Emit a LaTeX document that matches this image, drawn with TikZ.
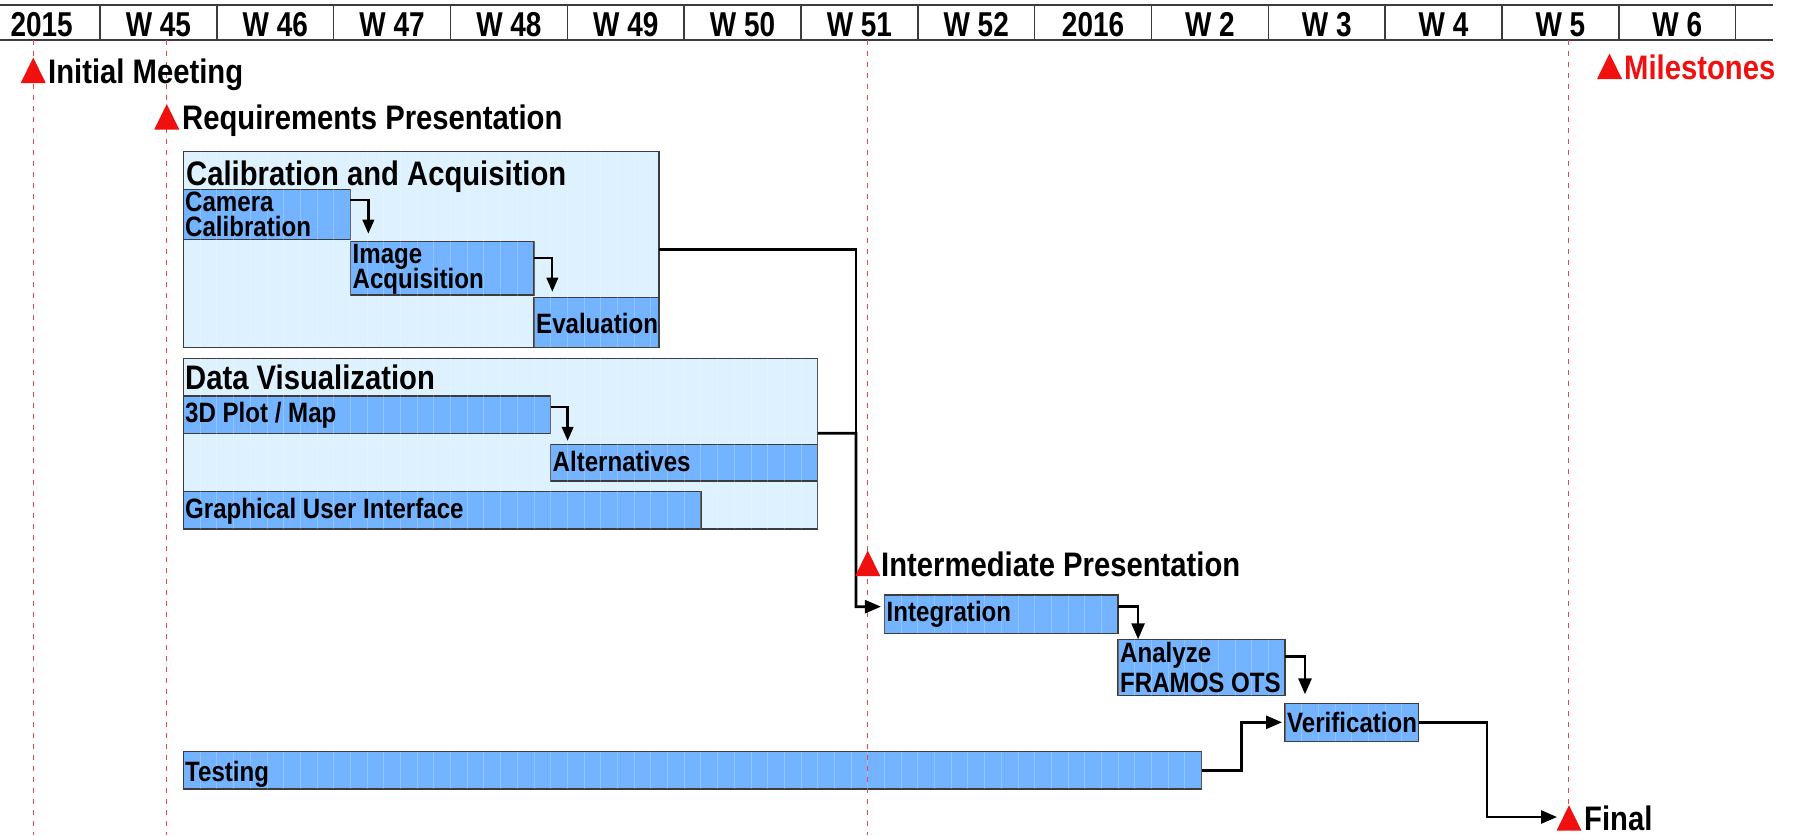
\documentclass[tikz,border=0pt]{standalone}
\usepackage{fontspec}
\newfontfamily\gf{Liberation Sans}[FakeStretch=0.86]
\newfontfamily\gfh{Liberation Sans}[FakeStretch=0.81]
\usetikzlibrary{arrows.meta}
\definecolor{barblue}{RGB}{115,179,255}
\definecolor{grpblue}{RGB}{221,242,254}
\definecolor{edgegray}{RGB}{60,60,60}
\definecolor{msred}{RGB}{240,16,16}
\definecolor{dashred}{RGB}{232,70,80}
\tikzset{
  gbox/.style={draw=edgegray, line width=1.3pt, inner sep=0pt, outer sep=0pt, anchor=north west},
  grp/.style={gbox, fill=grpblue},
  bar/.style={gbox, fill=barblue},
  hdr/.style={font=\gfh\bfseries\fontsize{34.5}{34.5}\selectfont, anchor=base, inner sep=0pt},
  ttl/.style={font=\gf\bfseries\fontsize{34}{34}\selectfont, anchor=base west, inner sep=0pt},
  btx/.style={font=\gf\bfseries\fontsize{28}{28}\selectfont, anchor=base west, inner sep=0pt},
  conn/.style={line width=2.7pt, -{Triangle[length=16pt,width=13pt]}},
  connsm/.style={line width=2.3pt, -{Triangle[length=14pt,width=11.5pt]}},
  plainconn/.style={line width=2.7pt},
  msdash/.style={dashred, line width=1.3pt, dash pattern=on 5pt off 6pt},
  hline/.style={draw=edgegray, line width=1.5pt},
  daygrid/.style={white, opacity=0.22, line width=0.8pt}
}
\newcommand\mtri[2]{\fill[msred] ({#1-12.5},#2) -- (#1,{#2-25.5}) -- ({#1+12.5},#2) -- cycle;}
\begin{document}
\begin{tikzpicture}[x=1pt,y=-1pt]
\useasboundingbox (0,0) rectangle (1795,835);
\fill[white] (0,0) rectangle (1795,835);

% header
\draw[hline] (0,5) -- (1773,5);
\draw[hline] (0,40) -- (1773,40);
\foreach \k in {0,...,14} \draw[hline] ({100+16.69*7*\k},5) -- ({100+16.69*7*\k},40);
\foreach \lab [count=\i from 0] in {2015,W 45,W 46,W 47,W 48,W 49,W 50,W 51,W 52,2016,W 2,W 3,W 4,W 5,W 6}
  \node[hdr] (h\i) at ({100+16.69*(7*\i-3.5)},36.5) {\lab};

% group boxes and bars
\node[grp, minimum width=475.65pt, minimum height=195.6pt] (cal) at (183.45,151.7) {};
\node[bar, minimum width=166.9pt, minimum height=50pt] (cam) at (183.45,189.3) {};
\node[bar, minimum width=183.59pt, minimum height=53.3pt] (img) at (350.35,241.7) {};
\node[bar, minimum width=125.16pt, minimum height=49.6pt] (eval) at (533.94,297.7) {};

\node[grp, minimum width=634.22pt, minimum height=170.7pt] (dv) at (183.45,358.3) {};
\node[bar, minimum width=367.18pt, minimum height=37.3pt] (plot) at (183.45,396) {};
\node[bar, minimum width=267.04pt, minimum height=36.7pt] (alt) at (550.63,444.3) {};
\node[bar, minimum width=517.39pt, minimum height=37.3pt] (gui) at (183.45,491.7) {};

\node[bar, minimum width=233.66pt, minimum height=38.3pt] (integ) at (884.43,595) {};
\node[bar, minimum width=166.91pt, minimum height=56.4pt] (analyze) at (1118.09,639.3) {};
\node[bar, minimum width=133.51pt, minimum height=38pt] (verif) at (1285.0,703.3) {};
\node[bar, minimum width=1018.09pt, minimum height=37.3pt] (test) at (183.45,751.7) {};

% day grid
\begin{scope}
\clip (cal.north west) rectangle (cal.south east)
      (dv.north west) rectangle (dv.south east)
      (integ.north west) rectangle (integ.south east)
      (analyze.north west) rectangle (analyze.south east)
      (verif.north west) rectangle (verif.south east)
      (test.north west) rectangle (test.south east);
\foreach \d in {6,...,78} \draw[daygrid] ({100+16.69*\d},150) -- ({100+16.69*\d},790);
\end{scope}

% milestone dashed lines
\draw[msdash] (33.24,40) -- (33.24,835);
\draw[msdash] (166.76,40) -- (166.76,835);
\draw[msdash] (867.74,40) -- (867.74,835);
\draw[msdash] (1568.72,40) -- (1568.72,806);

% connectors
\draw[connsm, shorten >=8pt] ([yshift=-10.7pt]cam.north east) -| ([xshift=18pt]img.north west);
\draw[connsm, shorten >=6pt] ([yshift=-16.6pt]img.north east) -| ([xshift=18.4pt]eval.north west);
\draw[connsm, shorten >=3.5pt] ([yshift=-10.7pt]plot.north east) -| ([xshift=17pt]alt.north west);
\coordinate (merge) at (856,433.3);
\draw[plainconn] (cal.east) -| (merge);
\draw[conn, shorten >=3.5pt] ([yshift=10.4pt]dv.east) -- (merge) |- ([yshift=7.5pt]integ.west);
\draw[conn] ([yshift=-11.7pt]integ.north east) -| ([xshift=20pt]analyze.north west);
\draw[conn, shorten >=9pt] ([yshift=-17.4pt]analyze.north east) -| ([xshift=20pt]verif.north west);
\draw[conn, shorten >=3pt] (test.east) -- ++(40,0) |- (verif.west);
\coordinate (finalIn) at (1557,817);
\draw[conn] (verif.east) -- ++(68.4,0) |- (finalIn);

% texts
\node[ttl] (calT) at (186,185) {Calibration and Acquisition};
\node[btx] (camT1) at (185,211.7) {Camera};
\node[btx] (camT2) at (185,236.7) {Calibration};
\node[btx] (imgT1) at (352.5,263.3) {Image};
\node[btx] (imgT2) at (352.5,288.3) {Acquisition};
\node[btx] (evalT) at (536,333.3) {Evaluation};
\node[ttl] (dvT) at (185,389.3) {Data Visualization};
\node[btx] (plotT) at (185,422.7) {3D Plot / Map};
\node[btx] (altT) at (552.5,471.7) {Alternatives};
\node[btx] (guiT) at (185,518.3) {Graphical User Interface};
\node[btx] (integT) at (886.5,621.7) {Integration};
\node[btx] (anT1) at (1120,662) {Analyze};
\node[btx] (anT2) at (1120,692.5) {FRAMOS OTS};
\node[btx] (verifT) at (1287,732.7) {Verification};
\node[btx] (testT) at (185,781.7) {Testing};

% milestones
\mtri{33.24}{83}
\node[ttl] (m1) at (48,83) {Initial Meeting};
\mtri{166.76}{129.5}
\node[ttl] (m2) at (182,129.5) {Requirements Presentation};
\mtri{867.74}{576}
\node[ttl] (m3) at (881,576) {Intermediate Presentation};
\mtri{1569}{830.7}
\node[ttl] (m4) at (1584,830) {Final};
\mtri{1609.5}{79}
\node[ttl, text=msred] (legend) at (1624,79) {Milestones};
\end{tikzpicture}
\end{document}
